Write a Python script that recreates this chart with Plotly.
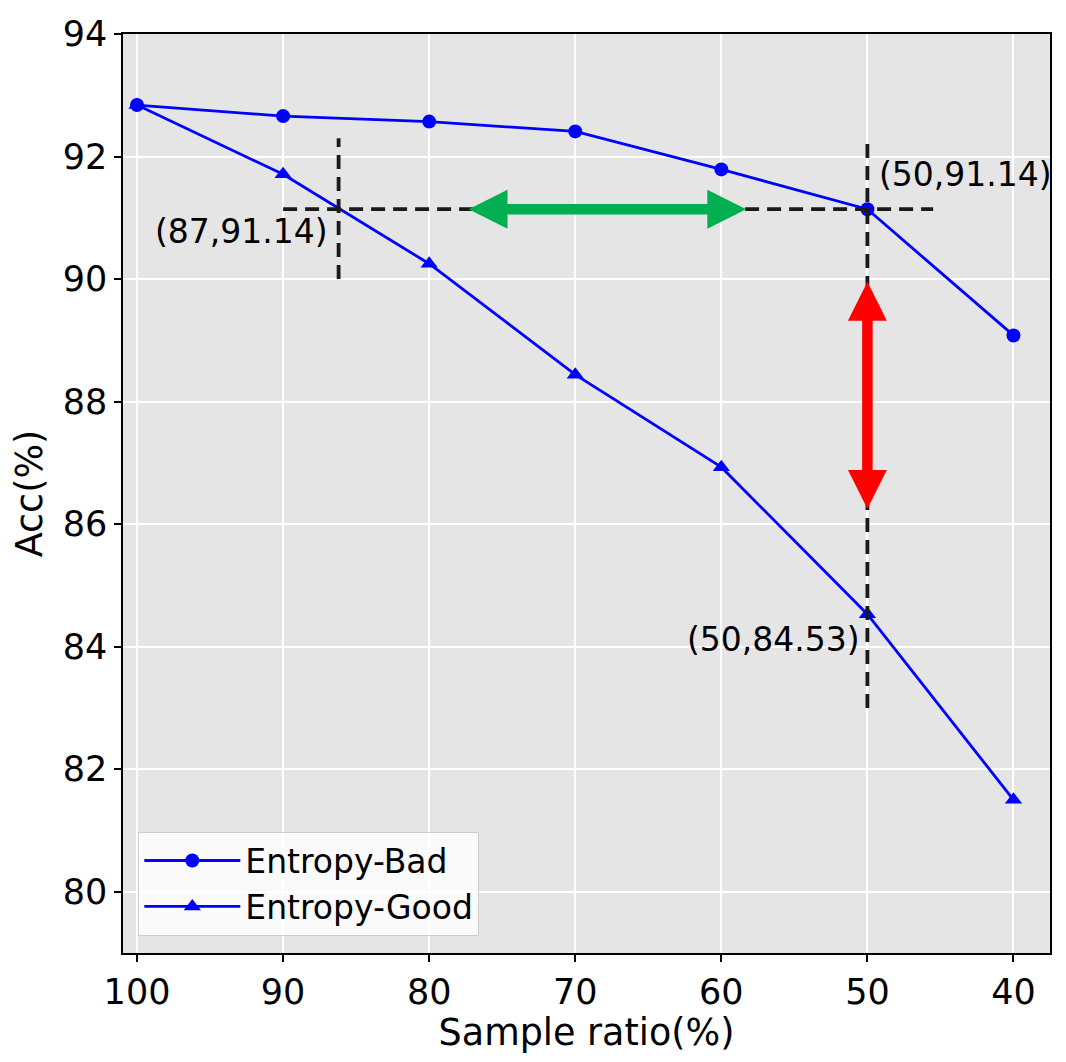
import plotly.graph_objects as go

# sample ratio (x) and accuracy of both curves
ratio = [100, 90, 80, 70, 60, 50, 40]
acc_bad = [92.84, 92.66, 92.57, 92.41, 91.79, 91.14, 89.08]
acc_good = [92.84, 91.71, 90.25, 88.44, 86.93, 84.53, 81.50]

# dashed guide lines
hline_x = [90.0, 45.5]
hline_y = [91.14, 91.14]
vline1_x = [86.2, 86.2]
vline1_y = [90.0, 92.3]
vline2_x = [50, 50]
vline2_y = [83.0, 92.25]

# double headed arrows
green_x = [77.4, 58.3]
green_y = [91.14, 91.14]
red_x = [50, 50]
red_y = [89.98, 86.25]

# point labels
labels = ["(87,91.14)", "(50,91.14)", "(50,84.53)"]
label_x = [86.8, 49.33, 50.34]
label_y = [90.77, 91.71, 84.11]
label_side = ["right", "left", "right"]

FONT = "DejaVu Sans"

fig = go.Figure()

fig.add_trace(go.Scatter(
    x=ratio, y=acc_bad, mode='lines+markers', name='Entropy-Bad',
    line=dict(color='#0000FF', width=2.8),
    marker=dict(symbol='circle', size=14, color='#0000FF')
))
fig.add_trace(go.Scatter(
    x=ratio, y=acc_good, mode='lines+markers', name='Entropy-Good',
    line=dict(color='#0000FF', width=2.8),
    marker=dict(symbol='triangle-up', size=15, color='#0000FF')
))

for xs, ys in [(hline_x, hline_y), (vline1_x, vline1_y), (vline2_x, vline2_y)]:
    fig.add_trace(go.Scatter(
        x=xs, y=ys, mode='lines', showlegend=False, hoverinfo='skip',
        line=dict(color='#1a1a1a', width=3.8, dash='14px,8px')
    ))

annotations = []
for xs, ys, col in [(green_x, green_y, '#00B050'), (red_x, red_y, '#FF0000')]:
    annotations.append(dict(
        x=xs[1], y=ys[1], ax=xs[0], ay=ys[0],
        xref='x', yref='y', axref='x', ayref='y',
        text='', showarrow=True, arrowside='end+start',
        arrowhead=2, startarrowhead=2,
        arrowsize=0.74, startarrowsize=0.74,
        arrowwidth=10.5, arrowcolor=col
    ))

for t, lx, ly, side in zip(labels, label_x, label_y, label_side):
    annotations.append(dict(
        x=lx, y=ly, xref='x', yref='y', text=t, showarrow=False,
        xanchor=side, yanchor='middle',
        font=dict(family=FONT, size=33, color='black')
    ))

# page has an 8px body margin, so the figure is a bit smaller than the window
fig.update_layout(
    width=1050, height=1046,
    margin=dict(l=115, r=6, t=21, b=101),
    paper_bgcolor='white',
    plot_bgcolor='#E5E5E5',
    font=dict(family=FONT, color='black'),
    annotations=annotations,
    showlegend=True,
    legend=dict(
        x=0.0165, y=0.019, xanchor='left', yanchor='bottom',
        bgcolor='rgba(255,255,255,0.8)', bordercolor='#CCCCCC', borderwidth=1,
        itemwidth=96,
        font=dict(family=FONT, size=33, color='black')
    ),
    xaxis=dict(
        range=[100.96, 37.5],
        tickvals=ratio,
        tickfont=dict(size=35),
        title=dict(text='Sample ratio(%)', font=dict(size=36.5), standoff=2),
        showgrid=True, gridcolor='white', gridwidth=1.6,
        zeroline=False,
        showline=True, linecolor='black', linewidth=1.5, mirror=True,
        ticks='outside', ticklen=7, tickwidth=1.5, tickcolor='black'
    ),
    yaxis=dict(
        range=[79, 94],
        tick0=80, dtick=2,
        tickfont=dict(size=35),
        title=dict(text='Acc(%)', font=dict(size=36.5), standoff=10),
        showgrid=True, gridcolor='white', gridwidth=1.6,
        zeroline=False,
        showline=True, linecolor='black', linewidth=1.5, mirror=True,
        ticks='outside', ticklen=7, tickwidth=1.5, tickcolor='black'
    )
)

fig.write_html("out.html")
